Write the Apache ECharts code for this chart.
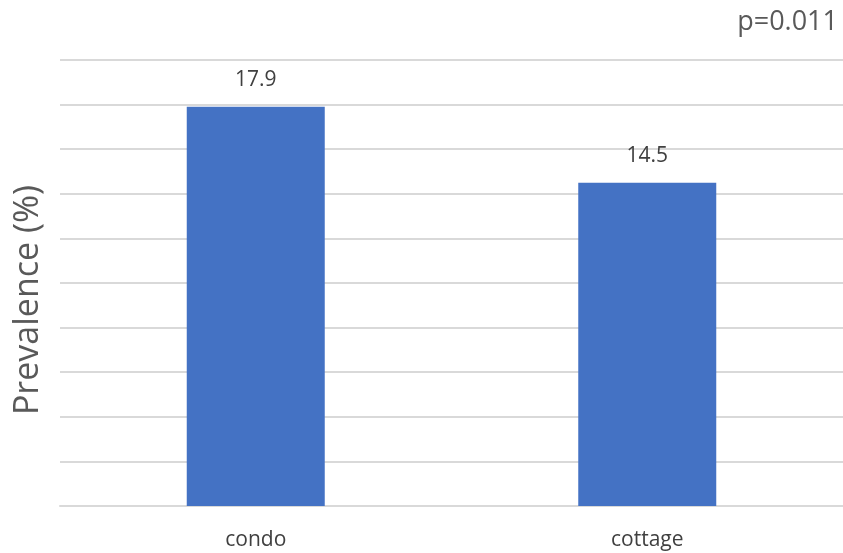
<!DOCTYPE html>
<html>
<head>
<meta charset="utf-8">
<script src="https://cdn.jsdelivr.net/npm/echarts@6/dist/echarts.min.js"></script>
<style>html,body{margin:0;padding:0;background:#fff;}#c{width:843px;height:553px;}</style>
</head>
<body>
<div id="c"></div>
<script>
const categories = ['condo', 'cottage'];
const prevalence = [17.9, 14.5];
const yTitle = 'Prevalence (%)';
const pText = 'p=0.011';

const chart = echarts.init(document.getElementById('c'));
chart.setOption({
  animation: false,
  backgroundColor: '#ffffff',
  grid: { left: 60, right: 0, top: 60, bottom: 47 },
  xAxis: {
    type: 'category',
    data: categories,
    axisLine: { show: true, lineStyle: { color: '#d9d9d9', width: 2 } },
    axisTick: { show: false },
    axisLabel: { color: '#404040', fontSize: 21, fontFamily: 'Open Sans', margin: 24 }
  },
  yAxis: {
    type: 'value',
    min: 0, max: 20, interval: 2,
    axisLine: { show: false },
    axisTick: { show: false },
    axisLabel: { show: false },
    splitLine: { lineStyle: { color: '#d9d9d9', width: 2 } }
  },
  series: [{
    type: 'bar',
    data: prevalence,
    barWidth: 138,
    itemStyle: { color: '#4472c4' },
    label: {
      show: true, position: 'top', distance: 16,
      color: '#404040', fontSize: 21, fontFamily: 'Open Sans',
      formatter: p => p.value.toFixed(1)
    }
  }],
  graphic: [
    {
      type: 'text',
      x: 28, y: 300, rotation: Math.PI / 2,
      style: { text: yTitle, fill: '#595959', font: '34px "Open Sans"', textAlign: 'center', textVerticalAlign: 'middle' }
    },
    {
      type: 'text', x: 838, y: 22,
      style: { text: pText, fill: '#595959', font: '27px "Open Sans"', textAlign: 'right', textVerticalAlign: 'middle' }
    }
  ]
});
</script>
</body>
</html>
